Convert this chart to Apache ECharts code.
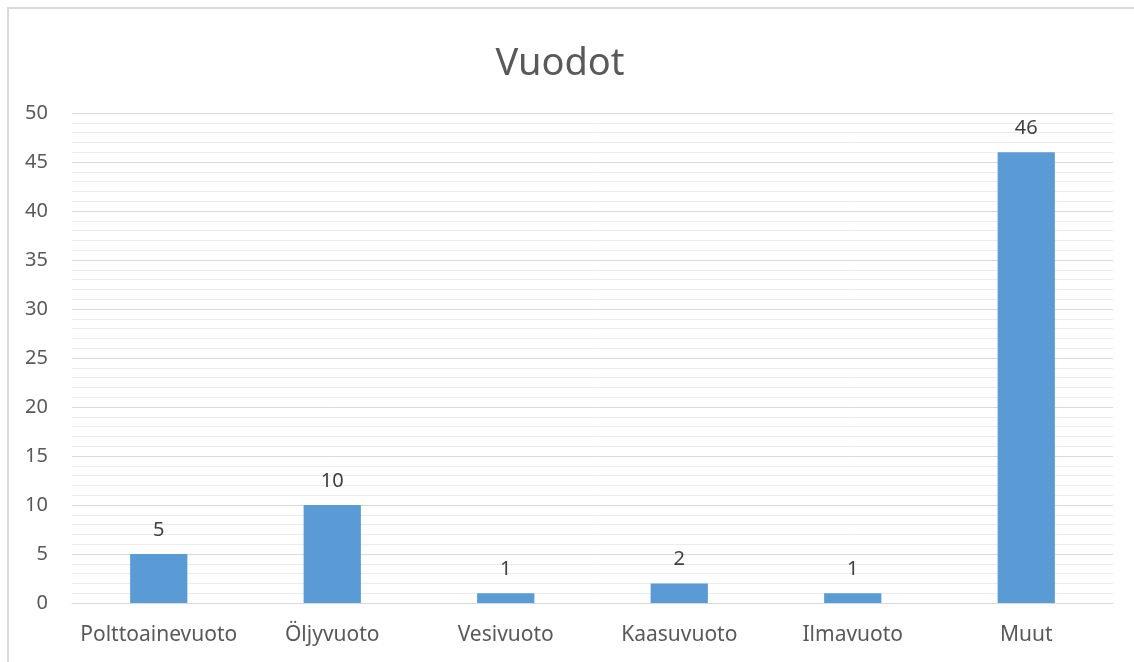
<!DOCTYPE html>
<html>
<head>
<meta charset="utf-8">
<script src="https://cdn.jsdelivr.net/npm/echarts@6/dist/echarts.min.js"></script>
<style>
  html, body { margin: 0; padding: 0; background: #fff; }
  #chart { width: 1134px; height: 662px; }
</style>
</head>
<body>
<div id="chart"></div>
<script>
const categories = ['Polttoainevuoto', 'Öljyvuoto', 'Vesivuoto', 'Kaasuvuoto', 'Ilmavuoto', 'Muut']
const values = [5, 10, 1, 2, 1, 46]
const titleText = 'Vuodot'

const chart = echarts.init(document.getElementById('chart'))
const font = 'Noto Sans'

chart.setOption({
  animation: false,
  graphic: [{
    type: 'rect',
    shape: { x: 8, y: 8, width: 1140, height: 700 },
    style: { fill: 'none', stroke: '#d9d9d9', lineWidth: 2 },
    z: -1
  }],
  title: {
    text: titleText,
    left: 555,
    textAlign: 'center',
    top: 40,
    textStyle: { fontFamily: font, fontSize: 38, fontWeight: 'normal', color: '#595959' }
  },
  grid: { left: 72, right: 21, top: 113, bottom: 59, containLabel: false },
  xAxis: {
    type: 'category',
    data: categories,
    axisLine: { lineStyle: { color: '#d9d9d9', width: 1 } },
    axisTick: { show: false },
    axisLabel: { interval: 0, fontFamily: font, fontSize: 21, color: '#595959', margin: 22 }
  },
  yAxis: {
    type: 'value',
    min: 0,
    max: 50,
    interval: 5,
    axisLine: { show: false },
    axisTick: { show: false },
    axisLabel: { fontFamily: font, fontSize: 20, color: '#595959', margin: 24 },
    splitLine: { lineStyle: { color: '#d9d9d9', width: 1 } },
    minorTick: { show: false, splitNumber: 5 },
    minorSplitLine: { show: true, lineStyle: { color: '#ececec', width: 1 } }
  },
  series: [{
    type: 'bar',
    data: values,
    barWidth: '33%',
    itemStyle: { color: '#5b9bd5' },
    label: {
      show: true,
      position: 'top',
      distance: 14,
      fontFamily: font,
      fontSize: 20,
      color: '#404040'
    }
  }]
})
</script>
</body>
</html>
